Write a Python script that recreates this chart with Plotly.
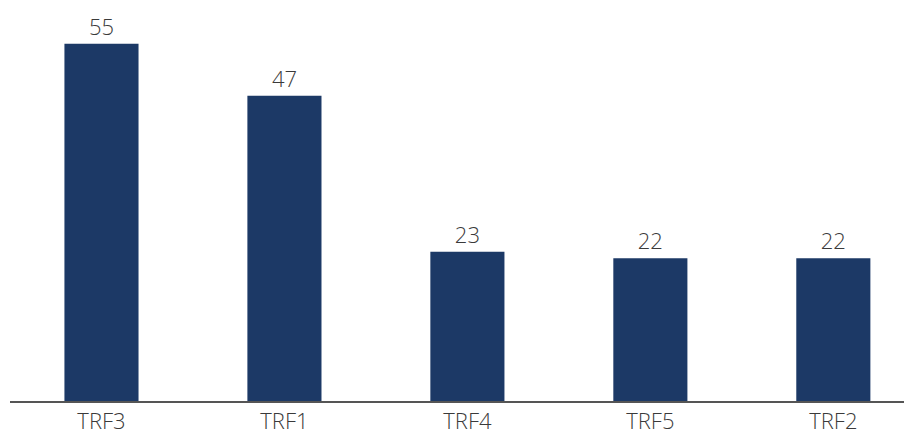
import plotly.graph_objects as go

categories = ["TRF3", "TRF1", "TRF4", "TRF5", "TRF2"]
values = [55, 47, 23, 22, 22]

BAR = "#1c3966"
TXT = "#3a3a3a"

fig = go.Figure(go.Bar(
    x=categories, y=values,
    marker=dict(color=BAR, line=dict(width=0)),
    width=0.405,
    text=[str(v) for v in values],
    textposition="outside",
    textfont=dict(size=22, color=TXT, family="Open Sans", weight=300),
    cliponaxis=False,
))

fig.update_layout(
    width=904, height=427,
    margin=dict(l=2, r=0, t=12, b=31),
    paper_bgcolor="white", plot_bgcolor="white",
    showlegend=False,
    font=dict(family="Open Sans", color=TXT),
    xaxis=dict(
        range=[-0.5, 4.43],
        showline=True, linecolor="#555555", linewidth=1.5,
        showgrid=False, ticks="",
        ticklabelstandoff=0,
        tickfont=dict(size=22, color=TXT, family="Open Sans", weight=300),
    ),
    yaxis=dict(range=[0, 58.67], visible=False, showgrid=False),
)

fig.write_html("out.html")
